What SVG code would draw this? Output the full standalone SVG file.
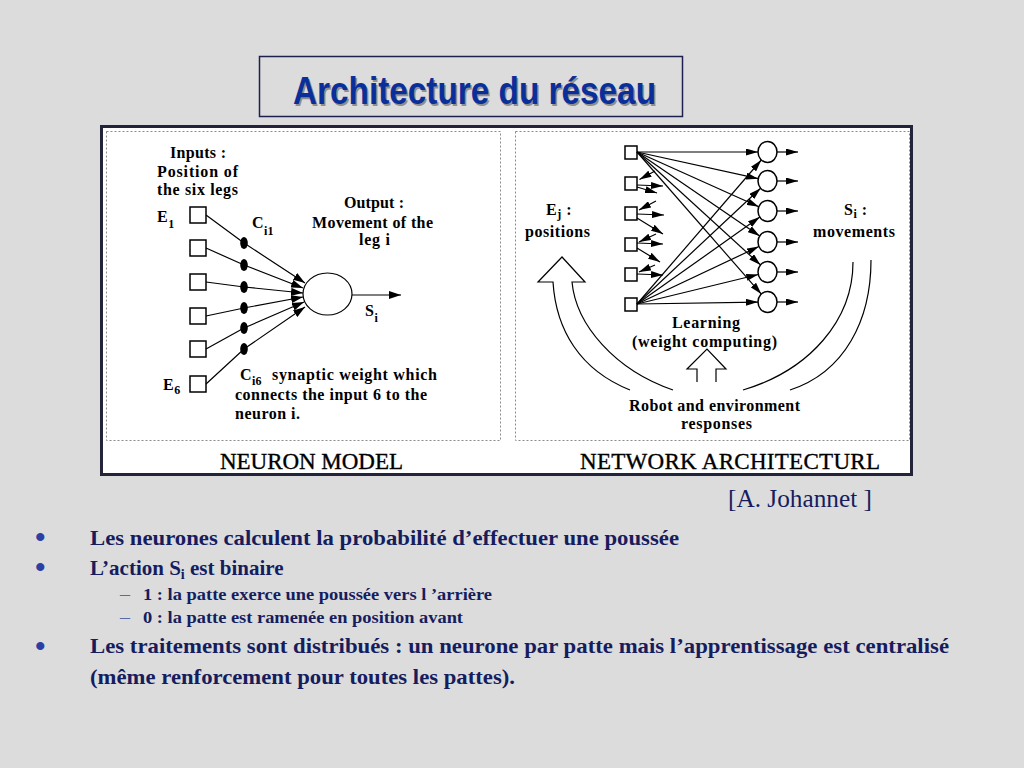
<svg xmlns="http://www.w3.org/2000/svg" width="1024" height="768" viewBox="0 0 1024 768">
<defs>
<style>
.bg{fill:#dcdcdc}
.title{font-family:"Liberation Sans",Arial,sans-serif;font-weight:bold;font-size:38px}
.fig{font-family:"Liberation Serif","Times New Roman",serif;font-weight:bold;font-size:16px;fill:#000}
.sub{font-size:12px}
.cap{font-family:"Liberation Serif","Times New Roman",serif;font-size:23px;fill:#000;stroke:#000;stroke-width:0.35}
.body{font-family:"Liberation Serif","Times New Roman",serif;font-weight:bold;fill:#161d5e}
.ref{font-family:"Liberation Serif","Times New Roman",serif;font-size:25px;fill:#161d5e}
.bul{font-family:"Liberation Serif","Times New Roman",serif;font-weight:bold;font-size:30px;fill:#2b40a3}
.dsh{font-family:"Liberation Serif","Times New Roman",serif;font-size:20px;fill:#5a6aa8}
.dash{fill:none;stroke:#8a8a8a;stroke-width:1;stroke-dasharray:2 2}
.ln{fill:none;stroke:#000;stroke-width:1.2}
.box{fill:#fff;stroke:#000;stroke-width:1.5}
</style>
<marker id="ahL" viewBox="0 0 12 8" refX="12" refY="4" markerWidth="12" markerHeight="8" markerUnits="userSpaceOnUse" orient="auto"><path d="M0,0 L12,4 L0,8 z" fill="#000"/></marker>
<marker id="ahS" viewBox="0 0 12 7" refX="12" refY="3.5" markerWidth="12" markerHeight="7" markerUnits="userSpaceOnUse" orient="auto"><path d="M0,0 L12,3.5 L0,7 z" fill="#000"/></marker>
</defs>
<rect class="bg" x="0" y="0" width="1024" height="768"/>

<g id="title">
<rect x="259.5" y="56.5" width="423" height="60" fill="none" stroke="#1c2050" stroke-width="1.5"/>
<text class="title" x="294.5" y="106" fill="#333" opacity="0.45" textLength="363" lengthAdjust="spacingAndGlyphs">Architecture du réseau</text>
<text class="title" x="293" y="104" fill="#0b2f9a" textLength="363" lengthAdjust="spacingAndGlyphs">Architecture du réseau</text>
</g>

<g id="figure-frame">
<rect x="101.5" y="126.5" width="810" height="348" fill="#fff" stroke="#23233a" stroke-width="3"/>
<rect class="dash" x="106.5" y="131.5" width="394" height="309"/>
<rect class="dash" x="515.5" y="131.5" width="394" height="309"/>
</g>

<!-- NEURON MODEL panel -->
<g id="neuron-model-labels">
<text class="fig" x="198" y="158" text-anchor="middle" textLength="56">Inputs :</text>
<text class="fig" x="157" y="177" textLength="81">Position of</text>
<text class="fig" x="157" y="195" textLength="81">the six legs</text>
<text class="fig" x="374" y="208" text-anchor="middle" textLength="60">Output :</text>
<text class="fig" x="312" y="228" textLength="121">Movement of the</text>
<text class="fig" x="359" y="245" textLength="31">leg i</text>
<text class="fig" x="252" y="228">C<tspan class="sub" dy="7" dx="0.5">i1</tspan></text>
<text class="fig" x="240" y="380">C<tspan class="sub" dy="5" dx="0.5">i6</tspan></text>
<text class="fig" x="272" y="380" textLength="165">synaptic weight which</text>
<text class="fig" x="235" y="400" textLength="192">connects the input 6 to the</text>
<text class="fig" x="235" y="419" textLength="65">neuron i.</text>
<text class="fig" x="365" y="316">S<tspan class="sub" dy="6" dx="0.5">i</tspan></text>
<text class="fig" x="157" y="222">E<tspan class="sub" dy="6" dx="0.5">1</tspan></text>
<text class="fig" x="163" y="390">E<tspan class="sub" dy="4" dx="0.5">6</tspan></text>
<text class="cap" x="220" y="469" textLength="183">NEURON MODEL</text>
</g>

<g id="input-E1"><rect class="box" x="190" y="207" width="16" height="16"/></g>
<g id="input-E2"><rect class="box" x="190" y="240" width="16" height="16"/></g>
<g id="input-E3"><rect class="box" x="190" y="274" width="16" height="16"/></g>
<g id="input-E4"><rect class="box" x="190" y="308" width="16" height="16"/></g>
<g id="input-E5"><rect class="box" x="190" y="341" width="16" height="16"/></g>
<g id="input-E6"><rect class="box" x="190" y="376" width="16" height="16"/></g>

<g id="neuron-i"><ellipse cx="327.5" cy="294" rx="24.5" ry="21" fill="#fff" stroke="#000" stroke-width="1.2"/></g>

<g id="neuron-connectors">
<polyline class="ln" points="206,215 244,243 305,283" marker-end="url(#ahL)"/>
<polyline class="ln" points="206,248 244,265 303,288" marker-end="url(#ahL)"/>
<polyline class="ln" points="206,282 244,287 303,293" marker-end="url(#ahL)"/>
<polyline class="ln" points="206,316 244,308 303,297" marker-end="url(#ahL)"/>
<polyline class="ln" points="206,349 244,328 304,302" marker-end="url(#ahL)"/>
<polyline class="ln" points="206,384 244,349 305,307" marker-end="url(#ahL)"/>
<line class="ln" x1="352" y1="295" x2="401" y2="295" marker-end="url(#ahL)"/>
</g>

<g id="synapses" fill="#000">
<ellipse cx="244" cy="243" rx="3.8" ry="6"/>
<ellipse cx="244" cy="265" rx="3.8" ry="6"/>
<ellipse cx="244" cy="287" rx="3.8" ry="6"/>
<ellipse cx="244" cy="308" rx="3.8" ry="6"/>
<ellipse cx="244" cy="328" rx="3.8" ry="6"/>
<ellipse cx="244" cy="349" rx="3.8" ry="6"/>
</g>

<!-- NETWORK ARCHITECTURE panel -->
<g id="network-labels">
<text class="fig" x="546" y="215">E<tspan class="sub" dy="3" dx="0.5">j</tspan><tspan dy="-3" dx="1"> :</tspan></text>
<text class="fig" x="525" y="237" textLength="65">positions</text>
<text class="fig" x="844" y="215">S<tspan class="sub" dy="3" dx="0.5">i</tspan><tspan dy="-3" dx="1"> :</tspan></text>
<text class="fig" x="813" y="237" textLength="82">movements</text>
<text class="fig" x="672" y="328" textLength="68">Learning</text>
<text class="fig" x="632" y="347" textLength="145">(weight computing)</text>
<text class="fig" x="629" y="411" textLength="171">Robot and environment</text>
<text class="fig" x="681" y="429" textLength="71">responses</text>
<text class="cap" x="580" y="469" textLength="300">NETWORK ARCHITECTURL</text>
</g>

<g id="net-in-1"><rect class="box" x="625" y="146" width="12" height="13"/></g>
<g id="net-in-2"><rect class="box" x="625" y="177" width="12" height="13"/></g>
<g id="net-in-3"><rect class="box" x="625" y="207" width="12" height="13"/></g>
<g id="net-in-4"><rect class="box" x="625" y="238" width="12" height="13"/></g>
<g id="net-in-5"><rect class="box" x="625" y="268" width="12" height="13"/></g>
<g id="net-in-6"><rect class="box" x="625" y="298" width="12" height="13"/></g>

<g id="net-out-1"><ellipse class="box" cx="767.5" cy="152" rx="9.5" ry="10.5" stroke-width="1.2"/></g>
<g id="net-out-2"><ellipse class="box" cx="767.5" cy="181" rx="9.5" ry="10.5" stroke-width="1.2"/></g>
<g id="net-out-3"><ellipse class="box" cx="767.5" cy="211" rx="9.5" ry="10.5" stroke-width="1.2"/></g>
<g id="net-out-4"><ellipse class="box" cx="767.5" cy="242" rx="9.5" ry="10.5" stroke-width="1.2"/></g>
<g id="net-out-5"><ellipse class="box" cx="767.5" cy="272" rx="9.5" ry="10.5" stroke-width="1.2"/></g>
<g id="net-out-6"><ellipse class="box" cx="767.5" cy="302" rx="9.5" ry="10.5" stroke-width="1.2"/></g>

<g id="network-connectors">
<line class="ln" x1="637" y1="152" x2="758" y2="152" marker-end="url(#ahS)"/>
<line class="ln" x1="637" y1="152" x2="758.2" y2="178.7" marker-end="url(#ahS)"/>
<line class="ln" x1="637" y1="152" x2="758.8" y2="206.7" marker-end="url(#ahS)"/>
<line class="ln" x1="637" y1="152" x2="759.7" y2="236" marker-end="url(#ahS)"/>
<line class="ln" x1="637" y1="152" x2="760.5" y2="264.9" marker-end="url(#ahS)"/>
<line class="ln" x1="637" y1="152" x2="761.3" y2="294.1" marker-end="url(#ahS)"/>
<line class="ln" x1="637" y1="304" x2="761.3" y2="160" marker-end="url(#ahS)"/>
<line class="ln" x1="637" y1="304" x2="760.6" y2="188.2" marker-end="url(#ahS)"/>
<line class="ln" x1="637" y1="304" x2="759.8" y2="217.1" marker-end="url(#ahS)"/>
<line class="ln" x1="637" y1="304" x2="758.9" y2="246.5" marker-end="url(#ahS)"/>
<line class="ln" x1="637" y1="304" x2="758.3" y2="274.5" marker-end="url(#ahS)"/>
<line class="ln" x1="637" y1="304" x2="758" y2="302.1" marker-end="url(#ahS)"/>
<!-- stubs -->
<line class="ln" x1="655" y1="171" x2="639.5" y2="179.5" marker-end="url(#ahS)"/>
<line class="ln" x1="637" y1="185" x2="663" y2="186" marker-end="url(#ahS)"/>
<line class="ln" x1="637" y1="187" x2="657" y2="193" marker-end="url(#ahS)"/>
<line class="ln" x1="656" y1="201" x2="639" y2="210" marker-end="url(#ahS)"/>
<line class="ln" x1="637" y1="214" x2="664" y2="215" marker-end="url(#ahS)"/>
<line class="ln" x1="637" y1="218" x2="663" y2="234" marker-end="url(#ahS)"/>
<line class="ln" x1="656" y1="234" x2="639" y2="242" marker-end="url(#ahS)"/>
<line class="ln" x1="637" y1="243" x2="663" y2="244" marker-end="url(#ahS)"/>
<line class="ln" x1="637" y1="248" x2="660" y2="262" marker-end="url(#ahS)"/>
<line class="ln" x1="655" y1="265" x2="639" y2="272" marker-end="url(#ahS)"/>
<line class="ln" x1="637" y1="274" x2="663" y2="275" marker-end="url(#ahS)"/>
<!-- outputs -->
<line class="ln" x1="777" y1="152" x2="798" y2="152" marker-end="url(#ahS)"/>
<line class="ln" x1="777" y1="181" x2="798" y2="181" marker-end="url(#ahS)"/>
<line class="ln" x1="777" y1="211" x2="798" y2="211" marker-end="url(#ahS)"/>
<line class="ln" x1="777" y1="242" x2="798" y2="242" marker-end="url(#ahS)"/>
<line class="ln" x1="777" y1="272" x2="798" y2="272" marker-end="url(#ahS)"/>
<line class="ln" x1="777" y1="302" x2="798" y2="302" marker-end="url(#ahS)"/>
<!-- feedback loop -->
<path class="ln" stroke-width="1" d="M630,390 C580,370 556,330 553,282 L538,282 L562,257 L585,282 L572,282 C576,325 615,370 673,390"/>
<path class="ln" stroke-width="1" d="M871,260 C871,320 845,372 790,390"/>
<path class="ln" stroke-width="1" d="M853,262 C853,320 810,370 743,390"/>
<path class="ln" stroke-width="1" d="M697,382 L697,369 L687,369 L707,349 L726,369 L716,369 L716,382"/>
</g>

<!-- Bottom text -->
<g id="reference"><text class="ref" x="728" y="507" textLength="144" lengthAdjust="spacingAndGlyphs">[A. Johannet ]</text></g>
<g id="bullets">
<text class="bul" x="35" y="547">•</text>
<text class="body" x="90" y="545" font-size="21" textLength="589" lengthAdjust="spacingAndGlyphs">Les neurones calculent la probabilité d’effectuer une poussée</text>
<text class="bul" x="35" y="577">•</text>
<text class="body" x="90" y="575" font-size="21">L’action S<tspan font-size="14" dy="4">i</tspan><tspan dy="-4"> est binaire</tspan></text>
<text class="dsh" x="120" y="601">–</text>
<text class="body" x="143" y="600" font-size="17" textLength="349" lengthAdjust="spacingAndGlyphs">1 : la patte exerce une poussée vers l ’arrière</text>
<text class="dsh" x="120" y="624">–</text>
<text class="body" x="143" y="623" font-size="17" textLength="320" lengthAdjust="spacingAndGlyphs">0 : la patte est ramenée en position avant</text>
<text class="bul" x="35" y="656">•</text>
<text class="body" x="90" y="653" font-size="21" textLength="859" lengthAdjust="spacingAndGlyphs">Les traitements sont distribués : un neurone par patte mais l’apprentissage est centralisé</text>
<text class="body" x="90" y="684" font-size="21" textLength="425" lengthAdjust="spacingAndGlyphs">(même renforcement pour toutes les pattes).</text>
</g>
</svg>
